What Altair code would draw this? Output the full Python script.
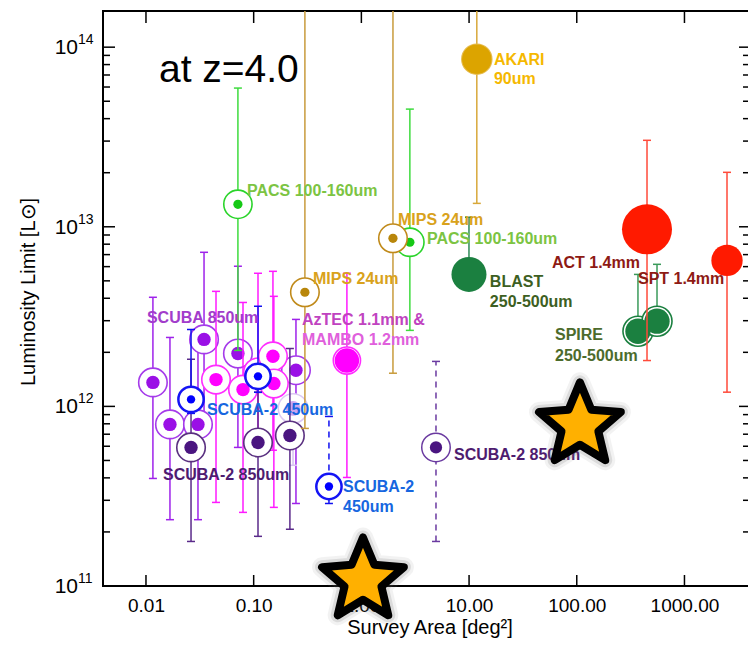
import altair as alt
import pandas as pd

# ---------------- data ----------------
pt_group = [
    "SCUBA 850um", "SCUBA 850um", "SCUBA 850um", "SCUBA 850um", "SCUBA 850um", "SCUBA 850um",
    "SCUBA 850um faded",
    "AzTEC/MAMBO", "AzTEC/MAMBO", "AzTEC/MAMBO", "AzTEC/MAMBO", "AzTEC/MAMBO",
    "AzTEC/MAMBO big",
    "SCUBA-2 850um", "SCUBA-2 850um", "SCUBA-2 850um",
    "SCUBA-2 850um wide",
    "SCUBA-2 450um", "SCUBA-2 450um",
    "SCUBA-2 450um wide",
    "PACS", "PACS",
    "MIPS", "MIPS",
    "AKARI", "BLAST", "SPIRE", "SPIRE", "ACT", "SPT",
]
pt_area = [0.0116, 0.0167, 0.0304, 0.0346, 0.0714, 0.247,
           0.232,
           0.0447, 0.0796, 0.1097, 0.151, 0.154,
           0.734,
           0.0262, 0.1097, 0.217,
           4.93,
           0.0262, 0.1097,
           0.500,
           0.0714, 2.82,
           0.299, 1.965,
           11.8, 9.98, 370, 556, 449, 2483]
pt_lum = [1.36e12, 7.94e11, 7.94e11, 2.36e12, 1.97e12, 1.59e12,
          9.74e11,
          1.41e12, 1.24e12, 1.55e12, 1.90e12, 1.34e12,
          1.80e12,
          5.91e11, 6.30e11, 6.89e11,
          5.91e11,
          1.094e12, 1.47e12,
          3.58e11,
          1.334e13, 8.20e12,
          4.32e12, 8.63e12,
          8.57e13, 5.43e12, 2.62e12, 2.98e12, 9.68e12, 6.50e12]
pt_lo = [3.97e11, 2.34e11, 2.34e11, 8.4e11, 5.91e11, 2.88e11,
         4.7e11,
         2.92e11, 2.57e11, 6.0e11, 5.7e11, 2.74e11,
         4.02e11,
         1.77e11, 1.89e11, 2.07e11,
         1.77e11,
         9.14e11, 1.197e12,
         2.88e11,
         2.05e12, 2.65e12,
         7.54e11, 1.53e12,
         1.35e13, 5.43e12, 2.62e12, 2.98e12, 1.80e12, 1.20e12]
pt_hi = [4.05e12, 2.42e12, 2.33e12, 7.21e12, 6.03e12, 3.05e12,
         9.74e11,
         4.37e12, 3.79e12, 5.51e12, 5.65e12, 4.10e12,
         5.51e12,
         1.83e12, 1.2e12, 2.10e12,
         1.78e12,
         2.68e12, 3.61e12,
         8.79e11,
         5.92e13, 4.52e13,
         1e15, 1e15,
         1e15, 1.13e13, 5.43e12, 6.18e12, 3.03e13, 2.01e13]

lab_text = ["PACS 100-160um", "MIPS 24um", "MIPS 24um", "PACS 100-160um",
            "AKARI", "90um", "BLAST", "250-500um", "SPT 1.4mm",
            "SPIRE", "250-500um", "SCUBA 850um", "AzTEC 1.1mm &", "MAMBO 1.2mm",
            "SCUBA-2 450um", "SCUBA-2 850um", "SCUBA-2", "450um", "SCUBA-2 850um"]
lab_area = [0.0867, 0.3556, 2.187, 4.06, 17.0, 17.0, 15.6, 15.6, 370,
            62.8, 62.8, 0.0102, 0.281, 0.281, 0.0368, 0.01439, 0.675, 0.675, 7.24]
lab_lum = [1.578e13, 5.10e12, 1.087e13, 8.51e12, 8.47e13, 6.64e13, 4.91e12, 3.79e12, 5.10e12,
           2.49e12, 1.92e12, 3.09e12, 3.01e12, 2.33e12, 9.50e11, 4.13e11, 3.54e11, 2.77e11, 5.33e11]
lab_kind = ["PACS", "MIPS", "MIPS", "PACS", "AKARI", "AKARI", "BLAST", "BLAST", "SPT",
            "SPIRE", "SPIRE", "SCUBA", "AzTEC", "MAMBO", "S2_450", "S2_850", "S2_450", "S2_450", "S2_850"]

act_text = ["ACT 1.4mm"]
act_area = [386]
act_lum = [6.27e12]

z_text = ["at z=4.0"]
z_area = [0.0132]
z_lum = [6.38e13]

star_area = [1.035, 107]
star_lum = [1.074e11, 7.84e11]

XTICKS = [0.01, 0.1, 1, 10, 100, 1000]
YTICKS = [1e11, 1e12, 1e13, 1e14]
YEXP = ["11", "12", "13", "14"]
YMINOR_MULT = [2, 3, 4, 5, 6, 7, 8, 9]
YMINOR_DEC = [1e11, 1e12, 1e13]

XTITLE = ["Survey Area [deg\u00b2]"]
YTITLE = ["Luminosity Limit [L\u2299]"]

# ---------------- layout / style ----------------
W, H = 645, 575
XMIN = 0.00399
XMAX = 3890.0
YMIN, YMAX = 1.0e11, 1.59e14
FONT = "Liberation Sans"

STYLE = {
    "SCUBA 850um": dict(bar="#9E22EA", ring="#A53BEA", ring_size=812, ring_w=1.6, dot="#9A10E6", dot_size=180),
    "SCUBA 850um faded": dict(bar="#D9C2F2", ring="#DCC8F4", ring_size=870, ring_w=1.5, dot="#CDA8F0", dot_size=220),
    "AzTEC/MAMBO": dict(bar="#FF1AFF", ring="#FF2EFF", ring_size=812, ring_w=1.6, dot="#FF00FF", dot_size=180),
    "AzTEC/MAMBO big": dict(bar="#FF1AFF", ring="#FF2EFF", ring_size=740, ring_w=1.6, dot="#FF00FF", dot_size=600),
    "SCUBA-2 850um": dict(bar="#5A2A8A", ring="#5A3080", ring_size=812, ring_w=1.6, dot="#4A1580", dot_size=180),
    "SCUBA-2 850um wide": dict(bar="#6A3AA0", ring="#6A3AA0", ring_size=812, ring_w=1.5, dot="#4A1580", dot_size=150, dash=[6, 5]),
    "SCUBA-2 450um": dict(bar="#1010F0", ring="#1414F5", ring_size=640, ring_w=2.5, dot="#0000FF", dot_size=70),
    "SCUBA-2 450um wide": dict(bar="#1010F0", ring="#1414F5", ring_size=640, ring_w=2.5, dot="#0000FF", dot_size=70, dash=[6, 5]),
    "PACS": dict(bar="#3EDB3E", ring="#2AD42A", ring_size=800, ring_w=1.6, dot="#16C816", dot_size=85),
    "MIPS": dict(bar="#C89B3C", ring="#C08A1A", ring_size=812, ring_w=1.6, dot="#B8860B", dot_size=85),
    "AKARI": dict(bar="#D8A83A", ring="#E6BC50", ring_size=900, ring_w=1.5, dot="#DCA400", dot_size=860, ring_fill="#DCA400"),
    "BLAST": dict(bar="#2E8B57", dot="#1B8040", dot_size=1225),
    "SPIRE": dict(bar="#3A9A5A", ring="#1B8040", ring_size=900, ring_w=1.6, dot="#1B8040", dot_size=640),
    "ACT": dict(bar="#FF4A3A", dot="#FF1A00", dot_size=2500),
    "SPT": dict(bar="#FF4A3A", dot="#FF1A00", dot_size=980),
}
ORDER = ["SCUBA 850um", "SCUBA 850um faded", "AzTEC/MAMBO", "AzTEC/MAMBO big",
         "SCUBA-2 850um", "SCUBA-2 850um wide", "SCUBA-2 450um", "SCUBA-2 450um wide",
         "PACS", "MIPS", "AKARI", "BLAST", "SPIRE", "ACT", "SPT"]
LABEL_COLOR = {"PACS": "#7CC443", "MIPS": "#D9A21C", "AKARI": "#F5B800", "BLAST": "#3D5F22",
               "SPT": "#8E1A14", "SPIRE": "#4C6B2C", "SCUBA": "#A23CCB", "AzTEC": "#C043C0",
               "MAMBO": "#E05FDC", "S2_450": "#1666E0", "S2_850": "#4E1C70"}

STAR = ("M0,-1L0.2645,-0.3641L0.9511,-0.309L0.428,0.1391L0.5878,0.809L0,0.45"
        "L-0.5878,0.809L-0.428,0.1391L-0.9511,-0.309L-0.2645,-0.3641Z")
STAR_SIZE = 7400

xscale = alt.Scale(type="log", domain=[XMIN, XMAX], nice=False)
yscale = alt.Scale(type="log", domain=[YMIN, YMAX], nice=False)
xaxis = alt.Axis(values=XTICKS, format=".2f", ticks=False, domain=False, grid=False,
                 labelFont=FONT, labelFontSize=19, labelColor="black", labelPadding=10,
                 labelFlush=False, labelOverlap=False, title=None)


def X(f="area"):
    return alt.X(f"{f}:Q", scale=xscale, axis=xaxis)


def Y(f="lum"):
    return alt.Y(f"{f}:Q", scale=yscale, axis=None)


pts = pd.DataFrame({"group": pt_group, "area": pt_area, "lum": pt_lum, "lo": pt_lo, "hi": pt_hi})
labels = pd.DataFrame({"text": lab_text, "area": lab_area, "lum": lab_lum,
                       "color": [LABEL_COLOR[k] for k in lab_kind]})

layers = []

# frame (right edge of the box lies outside the picture) and inward ticks
xt = pd.DataFrame({"v": XTICKS})
yt = pd.DataFrame({"v": YTICKS, "base": ["10"] * len(YTICKS), "exp": YEXP})
ym = pd.DataFrame({"v": [m * d for d in YMINOR_DEC for m in YMINOR_MULT]})
rk = dict(color="black", strokeWidth=1.5)
fk = dict(color="black", strokeWidth=2)
layers += [
    alt.Chart(yt.head(1)).mark_rule(**fk).encode(x=alt.value(0), y=alt.value(0), y2=alt.value(H)),
    alt.Chart(yt.head(1)).mark_rule(**fk).encode(y=alt.value(0), x=alt.value(-1), x2=alt.value(W)),
    alt.Chart(yt.head(1)).mark_rule(**fk).encode(y=alt.value(H), x=alt.value(-1), x2=alt.value(W)),
    alt.Chart(xt).mark_rule(**rk).encode(x=X("v"), y=alt.value(H), y2=alt.value(H - 11)),
    alt.Chart(xt).mark_rule(**rk).encode(x=X("v"), y=alt.value(0), y2=alt.value(12)),
    alt.Chart(yt).mark_rule(**rk).encode(y=Y("v"), x=alt.value(0), x2=alt.value(12)),
    alt.Chart(yt).mark_rule(**rk).encode(y=Y("v"), x=alt.value(W), x2=alt.value(W - 9)),
    alt.Chart(ym).mark_rule(**rk).encode(y=Y("v"), x=alt.value(0), x2=alt.value(7)),
    alt.Chart(ym).mark_rule(**rk).encode(y=Y("v"), x=alt.value(W), x2=alt.value(W - 5)),
    alt.Chart(yt).mark_text(align="right", baseline="middle", fontSize=21, font=FONT, dy=1,
                            color="black").encode(x=alt.value(-25), y=Y("v"), text="base:N"),
    alt.Chart(yt).mark_text(align="left", baseline="alphabetic", fontSize=14, font=FONT, dy=-3,
                            color="black").encode(x=alt.value(-25), y=Y("v"), text="exp:N"),
]

# survey groups
for g in ORDER:
    st = STYLE[g]
    base = alt.Chart(pts[pts.group == g])
    rule_kw = dict(color=st["bar"], strokeWidth=1.5, clip=True, opacity=1)
    if st.get("dash"):
        rule_kw["strokeDash"] = st["dash"]
    layers.append(base.mark_rule(**rule_kw).encode(x=X(), y=Y("lo"), y2=alt.Y2("hi:Q")))
    for f in ["lo", "hi"]:
        layers.append(base.mark_tick(orient="horizontal", size=8, thickness=1.5, color=st["bar"],
                                     opacity=1, clip=True).encode(x=X(), y=Y(f)))
    if st.get("ring"):
        layers.append(base.mark_point(shape="circle", filled=True, fill=st.get("ring_fill", "white"),
                                      stroke=st["ring"], strokeWidth=st["ring_w"], size=st["ring_size"],
                                      opacity=1).encode(x=X(), y=Y()))
    layers.append(base.mark_point(shape="circle", filled=True, fill=st["dot"], strokeWidth=0,
                                  size=st["dot_size"], opacity=1).encode(x=X(), y=Y()))

# labels
layers += [
    alt.Chart(labels).mark_text(align="left", baseline="middle", fontSize=16, fontWeight="bold",
                                font=FONT).encode(x=X(), y=Y(), text="text:N",
                                                  color=alt.Color("color:N", scale=None)),
    alt.Chart(pd.DataFrame({"text": act_text, "area": act_area, "lum": act_lum})).mark_text(
        align="right", baseline="middle", fontSize=16, fontWeight="bold", font=FONT,
        color=LABEL_COLOR["SPT"]).encode(x=X(), y=Y(), text="text:N"),
    alt.Chart(pd.DataFrame({"text": z_text, "area": z_area, "lum": z_lum})).mark_text(
        align="left", baseline="alphabetic", fontSize=39, font=FONT, color="black").encode(
        x=X(), y=Y(), text="text:N"),
    alt.Chart(pd.DataFrame({"t": XTITLE})).mark_text(
        align="center", baseline="alphabetic", fontSize=20, font=FONT, color="black").encode(
        x=alt.value(327), y=alt.value(H + 48), text="t:N"),
    alt.Chart(pd.DataFrame({"t": YTITLE})).mark_text(
        align="center", baseline="alphabetic", fontSize=20, font=FONT, color="black", angle=270).encode(
        x=alt.value(-68), y=alt.value(281), text="t:N"),
]

# stars with a soft glow
stars = alt.Chart(pd.DataFrame({"area": star_area, "lum": star_lum}))
layers += [
    stars.mark_point(shape=STAR, size=STAR_SIZE, filled=True, fill="#888888", stroke="#888888",
                     strokeWidth=20, strokeJoin="round", opacity=0.1).encode(x=X(), y=Y()),
    stars.mark_point(shape=STAR, size=STAR_SIZE, filled=True, fill="#666666", stroke="#666666",
                     strokeWidth=14, strokeJoin="round", opacity=0.16).encode(x=X(), y=Y()),
    stars.mark_point(shape=STAR, size=STAR_SIZE, filled=True, fill="#FFB000", stroke="black",
                     strokeWidth=8, strokeJoin="round", opacity=1).encode(x=X(), y=Y()),
]

chart = alt.layer(*layers).properties(
    width=W, height=H,
    autosize=alt.AutoSizeParams(type="none"),
    padding={"left": 95, "top": 3, "right": 0, "bottom": 52},
    background="white",
).configure_view(strokeWidth=0)

chart.save("out.html", embed_options={"renderer": "svg", "actions": False})
